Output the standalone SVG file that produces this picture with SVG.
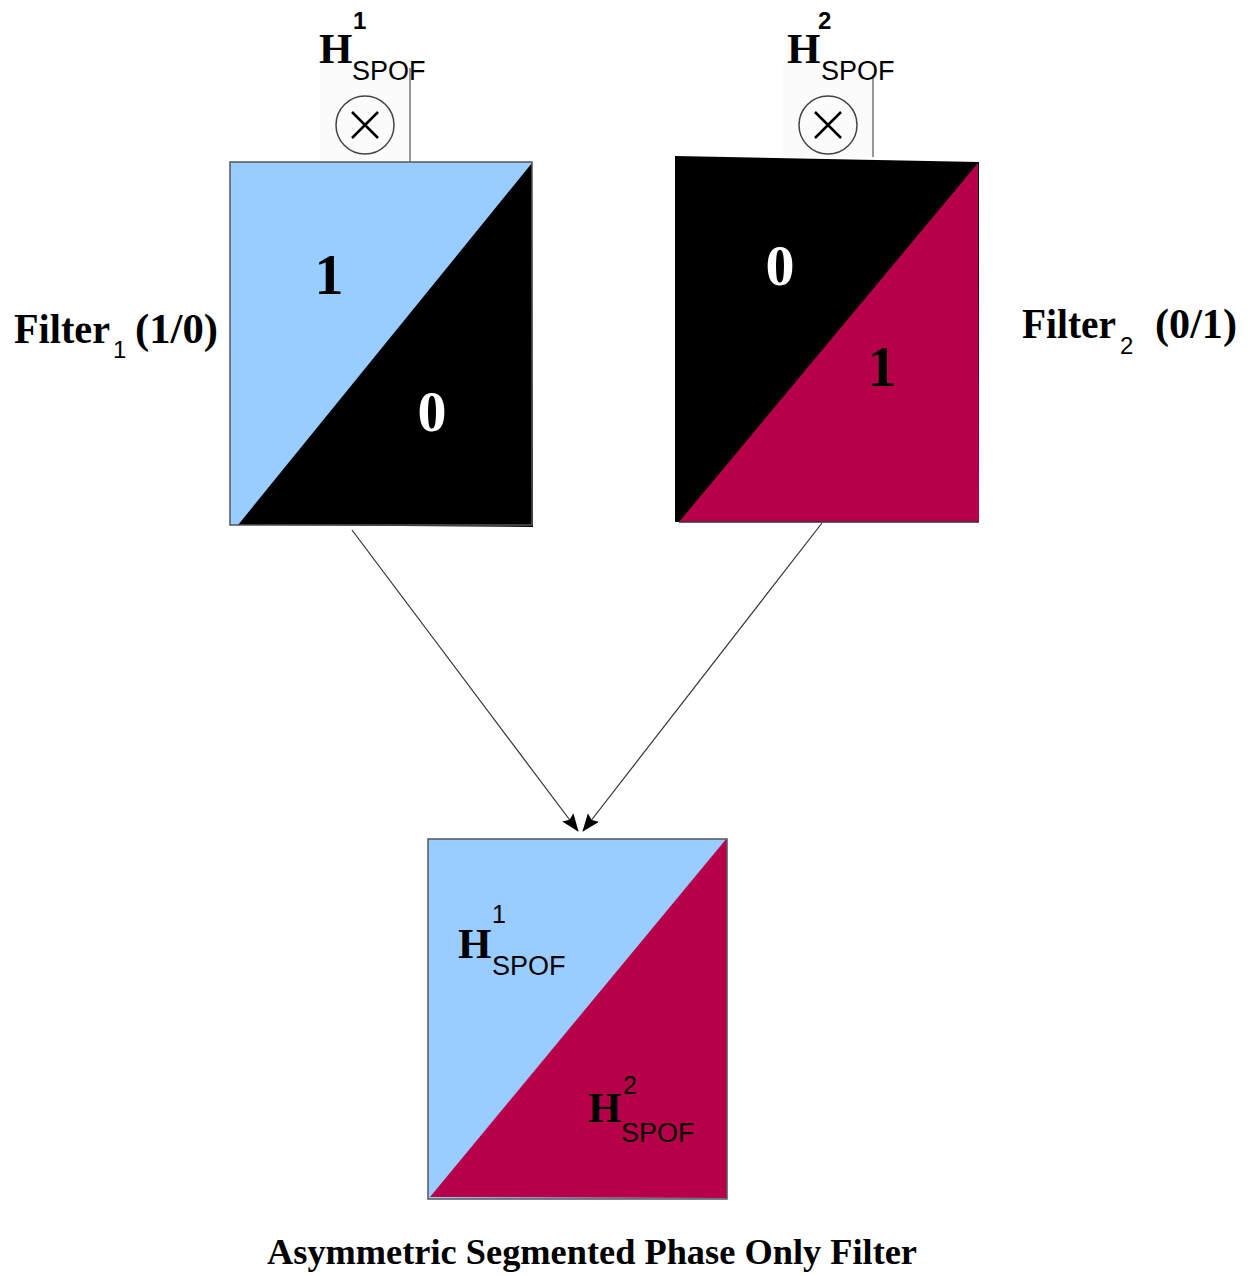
<svg xmlns="http://www.w3.org/2000/svg" width="1251" height="1276" viewBox="0 0 1251 1276">
<defs>
<style>
.serif{font-family:"Liberation Serif","Times New Roman",serif;font-weight:bold;fill:#000}
.sans{font-family:"Liberation Sans",Arial,sans-serif;fill:#000}
.sup{font-family:"Liberation Sans",Arial,sans-serif;font-weight:bold;fill:#000}
.blue{fill:#99ccff}
.red{fill:#b8004a}
.blk{fill:#000}
.frame{fill:none;stroke:#555;stroke-width:1.5}
.conn{stroke:#333;stroke-width:1.2;fill:none}
</style>
<marker id="ah" markerWidth="18" markerHeight="14" refX="17" refY="7" orient="auto" markerUnits="userSpaceOnUse">
<path d="M0,0 L18,7 L0,14 L3,7 Z" fill="#000"/>
</marker>
</defs>
<rect width="1251" height="1276" fill="#fff"/>

<g id="mult1">
<rect x="320" y="60" width="90" height="100" fill="#fbfbfb"/>
<circle cx="365" cy="125" r="29" fill="none" stroke="#444" stroke-width="1.5"/>
<path d="M352,112 L378,138 M378,112 L352,138" stroke="#000" stroke-width="2.5"/>
<line x1="410" y1="68" x2="410" y2="162" stroke="#555" stroke-width="1.2"/>
<text class="serif" x="319" y="63" font-size="43">H</text>
<text class="sup" x="353" y="29" font-size="24">1</text>
<text class="sans" x="352" y="80" font-size="27">SPOF</text>
</g>

<g id="mult2">
<rect x="783" y="60" width="90" height="97" fill="#fbfbfb"/>
<circle cx="828" cy="125" r="29" fill="none" stroke="#444" stroke-width="1.5"/>
<path d="M815,112 L841,138 M841,112 L815,138" stroke="#000" stroke-width="2.5"/>
<line x1="873" y1="75" x2="873" y2="157" stroke="#555" stroke-width="1.2"/>
<text class="serif" x="787" y="63" font-size="43">H</text>
<text class="sup" x="818" y="29" font-size="24">2</text>
<text class="sans" x="821" y="80" font-size="27">SPOF</text>
</g>

<g id="filter1">
<rect x="230" y="162" width="302" height="363" class="blue"/>
<polygon points="532,163 533,527 238,525" class="blk"/>
<rect x="230" y="162" width="302" height="363" class="frame"/>
<text class="serif" x="329" y="294" font-size="58" text-anchor="middle">1</text>
<text class="serif" x="432" y="431" font-size="58" text-anchor="middle" style="fill:#fff">0</text>
<text class="serif" x="14" y="343" font-size="42" textLength="96" lengthAdjust="spacingAndGlyphs">Filter</text>
<text class="sans" x="113" y="358" font-size="24">1</text>
<text class="serif" x="135" y="343" font-size="42" textLength="83" lengthAdjust="spacingAndGlyphs">(1/0)</text>
</g>

<g id="filter2">
<polygon points="675,156 979,162 979,522 675,522" class="blk"/>
<polygon points="978,163 979,522 679,522" class="red"/>
<line x1="679" y1="522" x2="979" y2="522" stroke="#333" stroke-width="1.5"/>
<text class="serif" x="780" y="285" font-size="58" text-anchor="middle" style="fill:#fff">0</text>
<text class="serif" x="882" y="386" font-size="58" text-anchor="middle">1</text>
<text class="serif" x="1022" y="338" font-size="42" textLength="94" lengthAdjust="spacingAndGlyphs">Filter</text>
<text class="sans" x="1120" y="354" font-size="24">2</text>
<text class="serif" x="1155" y="338" font-size="42" textLength="82" lengthAdjust="spacingAndGlyphs">(0/1)</text>
</g>

<g id="connectors">
<line x1="352" y1="530" x2="578" y2="831" class="conn" marker-end="url(#ah)"/>
<line x1="822" y1="523" x2="583" y2="831" class="conn" marker-end="url(#ah)"/>
</g>

<g id="aspof">
<rect x="428" y="839" width="299" height="360" class="blue"/>
<polygon points="727,838 727,1198 430,1197" class="red"/>
<rect x="428" y="839" width="299" height="360" class="frame"/>
<text class="serif" x="458" y="958" font-size="43">H</text>
<text class="sans" x="492" y="923" font-size="25">1</text>
<text class="sans" x="492" y="975" font-size="27">SPOF</text>
<text class="serif" x="588" y="1122" font-size="43">H</text>
<text class="sans" x="623" y="1094" font-size="25">2</text>
<text class="sans" x="621" y="1142" font-size="27">SPOF</text>
</g>

<text id="title" class="serif" x="592" y="1264" font-size="35" text-anchor="middle" textLength="650" lengthAdjust="spacingAndGlyphs">Asymmetric Segmented Phase Only Filter</text>
</svg>
